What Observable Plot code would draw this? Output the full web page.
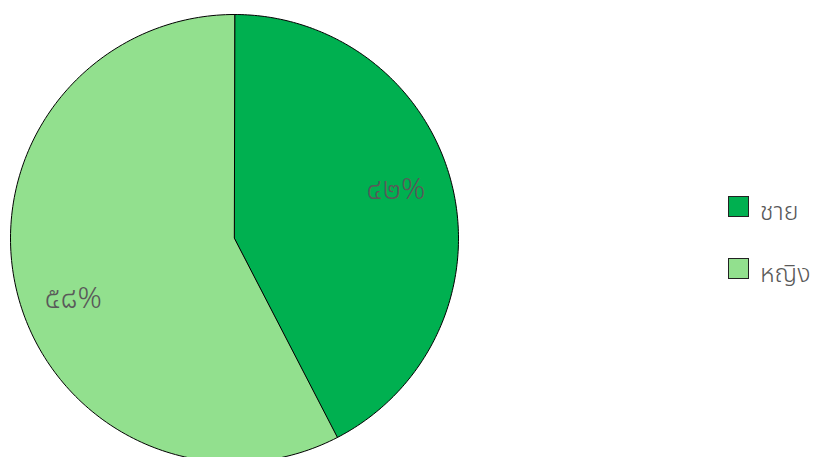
<!DOCTYPE html>
<html><head><meta charset="utf-8">
<script src="https://cdn.jsdelivr.net/npm/d3@7"></script>
<script src="https://cdn.jsdelivr.net/npm/@observablehq/plot@0.6"></script>
<style>
body{margin:0;background:#fff;}
#wrap{position:relative;width:813px;height:457px;overflow:hidden;font-family:"Noto Sans Thai","Tahoma","Noto Sans",sans-serif;}
#legend{position:absolute;left:728px;top:196px;}
.row{display:flex;align-items:flex-start;height:21px;margin-bottom:41px;}
.sw{width:19px;height:19px;border:1px solid #222;margin-right:11px;flex:none;}
.lb{font-size:25px;font-weight:300;color:#595959;line-height:21px;padding-top:6px;white-space:nowrap;}
</style>
</head><body><div id="wrap"></div>
<script>
const categories = ["ชาย", "หญิง"];
const values = [42.4, 57.6];
const labels = ["๔๒%", "๕๘%"];
const colors = ["#00b050", "#92e08e"];

const R = 224;
const arcs = d3.pie().sort(null).value(d => d.v)(categories.map((c, i) => ({c, v: values[i], l: labels[i]})));

const pts = [];
arcs.forEach(a => {
  pts.push({cat: a.data.c, x: 0, y: 0});
  const n = 180;
  for (let k = 0; k <= n; k++) {
    const t = a.startAngle + (a.endAngle - a.startAngle) * k / n;
    pts.push({cat: a.data.c, x: R * Math.sin(t), y: -R * Math.cos(t)});
  }
});
const off = 5 * Math.PI / 180;
const lab = arcs.map(a => {
  const m = (a.startAngle + a.endAngle) / 2 - off;
  return {x: 0.76 * R * Math.sin(m), y: -0.76 * R * Math.cos(m), t: a.data.l};
});

const chart = Plot.plot({
  width: 813, height: 457, margin: 0,
  x: {domain: [-234, 579], axis: null},
  y: {domain: [219, -238], axis: null},
  color: {domain: categories, range: colors},
  style: {background: "transparent", fontFamily: "'Noto Sans Thai', Tahoma, 'Noto Sans', sans-serif"},
  marks: [
    Plot.line(pts, {x: "x", y: "y", z: "cat", fill: "cat", stroke: "black", strokeWidth: 1, curve: "linear-closed"}),
    Plot.text(lab, {x: "x", y: "y", text: "t", fontSize: 30, fontWeight: 300, fill: "#595959", dy: 5})
  ]
});
const wrap = document.getElementById("wrap");
wrap.appendChild(chart);
const leg = document.createElement("div");
leg.id = "legend";
categories.forEach((c, i) => {
  const r = document.createElement("div"); r.className = "row";
  const s = document.createElement("div"); s.className = "sw"; s.style.background = colors[i];
  const t = document.createElement("div"); t.className = "lb"; t.textContent = c;
  r.appendChild(s); r.appendChild(t); leg.appendChild(r);
});
wrap.appendChild(leg);
</script>
</body></html>
